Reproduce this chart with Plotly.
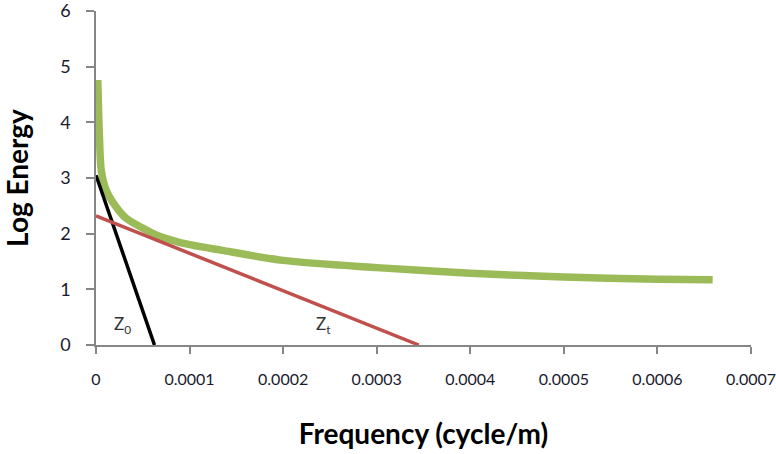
import plotly.graph_objects as go

# Green spectrum curve
spec_x = [0.0000019, 0.0000037, 0.0000056, 0.0000109, 0.0000198, 0.000032, 0.000050,
          0.000065, 0.000090, 0.000135, 0.0002, 0.0003, 0.0004, 0.0005, 0.0006, 0.000659]
spec_y = [4.76, 3.73, 3.14, 2.78, 2.52, 2.28, 2.10, 1.97, 1.84, 1.70, 1.52, 1.39, 1.29,
          1.22, 1.18, 1.17]

# Z0 line (black)
z0_x = [0.0, 0.0000625]
z0_y = [3.05, 0.0]

# Zt line (red)
zt_x = [0.0, 0.000345]
zt_y = [2.32, 0.0]

x_tickvals = [0, 0.0001, 0.0002, 0.0003, 0.0004, 0.0005, 0.0006, 0.0007]
x_ticktext = ["0", "0.0001", "0.0002", "0.0003", "0.0004", "0.0005", "0.0006", "0.0007"]
y_tickvals = [0, 1, 2, 3, 4, 5, 6]

FONT = "Lato"
TICKCOL = "#1a1a2e"

fig = go.Figure()
fig.add_trace(go.Scatter(x=spec_x, y=spec_y, mode="lines",
                         line=dict(color="#9BBB59", width=7.5, shape="spline", smoothing=0.8),
                         showlegend=False))
fig.add_trace(go.Scatter(x=z0_x, y=z0_y, mode="lines", line=dict(color="#000000", width=3.5), showlegend=False))
fig.add_trace(go.Scatter(x=zt_x, y=zt_y, mode="lines", line=dict(color="#C0504D", width=3.5), showlegend=False))

fig.add_annotation(x=0.0000284, y=0.36, text="Z<sub>0</sub>", showarrow=False,
                   font=dict(family=FONT, size=17, color="#333333"))
fig.add_annotation(x=0.000243, y=0.36, text="Z<sub>t</sub>", showarrow=False,
                   font=dict(family=FONT, size=17, color="#333333"))

fig.update_layout(
    width=776, height=454,
    margin=dict(l=96, r=25, t=11, b=109),
    paper_bgcolor="white", plot_bgcolor="white",
    font=dict(family=FONT, size=16, color=TICKCOL),
    xaxis=dict(range=[0, 0.0007], tickvals=x_tickvals, ticktext=x_ticktext, automargin=False,
               showgrid=False, zeroline=False, showline=True, linecolor="#868686", linewidth=1.5,
               ticks="outside", ticklen=7, tickcolor="#868686", tickwidth=1.5,
               ticklabelstandoff=12, ticklabeloverflow="allow",
               tickfont=dict(family=FONT, size=16, color=TICKCOL),
               title=dict(text="<b>Frequency (cycle/m)</b>", font=dict(family=FONT, size=28, color="#000000"), standoff=37)),
    yaxis=dict(range=[0, 6], tickvals=y_tickvals, automargin=False,
               showgrid=False, zeroline=False, showline=True, linecolor="#868686", linewidth=1.5,
               ticks="outside", ticklen=8, tickcolor="#868686", tickwidth=1.5,
               ticklabelstandoff=12, ticklabeloverflow="allow",
               tickfont=dict(family=FONT, size=18, color=TICKCOL),
               title=dict(text="<b>Log Energy</b>", font=dict(family=FONT, size=28, color="#000000"), standoff=26)),
)

fig.write_html("out.html", config={"displayModeBar": False},
               post_script="document.body.style.margin='0';")
